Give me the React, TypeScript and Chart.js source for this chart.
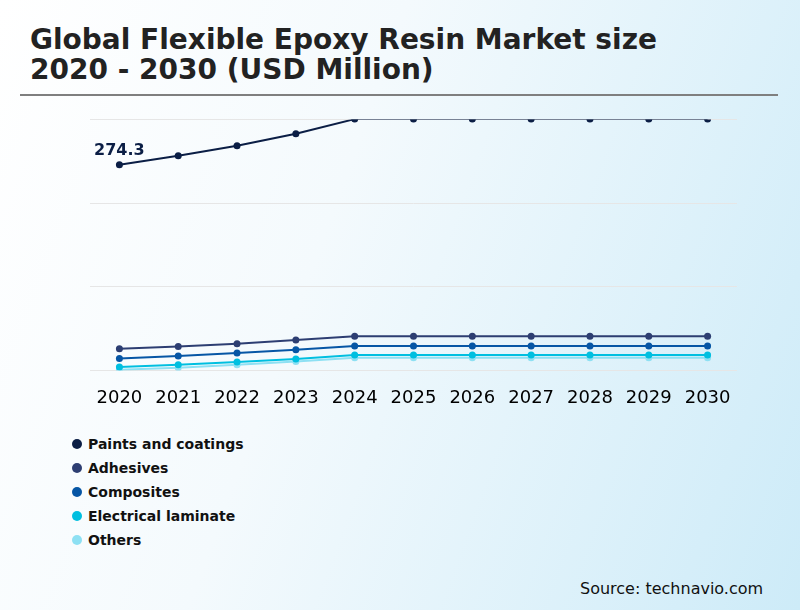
import { useEffect, useRef } from "react";
import { Chart, ChartConfiguration, Plugin, registerables } from "chart.js";

Chart.register(...registerables);

const years = ["2020", "2021", "2022", "2023", "2024", "2025", "2026", "2027", "2028", "2029", "2030"];

const paints = [274.3, 286.2, 299.5, 315.5, 335, 335, 335, 335, 335, 335, 335];
const adhesives = [29.0, 32.0, 35.6, 40.5, 45.4, 45.4, 45.4, 45.4, 45.4, 45.4, 45.4];
const composites = [16.0, 19.1, 23.1, 27.6, 32.4, 32.4, 32.4, 32.4, 32.4, 32.4, 32.4];
const electrical = [4.5, 7.6, 11.1, 15.1, 20.4, 20.4, 20.4, 20.4, 20.4, 20.4, 20.4];
const others = [1.0, 3.6, 7.6, 12.0, 17.0, 17.0, 17.0, 17.0, 17.0, 17.0, 17.0];

const seriesNames = ["Paints and coatings", "Adhesives", "Composites", "Electrical laminate", "Others"];
const seriesColors = ["#0b1e45", "#2d3e72", "#0656a5", "#00bfe0", "#8de0f3"];
const seriesValues = [paints, adhesives, composites, electrical, others];

const yMax = 334.5;
const yStep = 111.5;

const FONT = "'DejaVu Sans', sans-serif";

// value label above the first point of the first series
const firstLabel: Plugin<"line"> = {
  id: "firstLabel",
  afterDatasetsDraw(chart) {
    const pt = chart.getDatasetMeta(0).data[0];
    if (!pt) return;
    const { ctx } = chart;
    ctx.save();
    ctx.font = `bold 16px ${FONT}`;
    ctx.fillStyle = "#0b1e45";
    ctx.textAlign = "center";
    ctx.textBaseline = "alphabetic";
    ctx.fillText(paints[0].toFixed(1), pt.x, pt.y - 9.5);
    ctx.restore();
  },
};

function LineChart(): JSX.Element {
  const chartRef = useRef<HTMLCanvasElement | null>(null);
  const chartInstance = useRef<Chart | null>(null);

  useEffect(() => {
    if (!chartRef.current) return;
    const ctx = chartRef.current.getContext("2d");
    if (!ctx) return;

    Chart.defaults.font.family = FONT;

    const config: ChartConfiguration<"line"> = {
      type: "line",
      data: {
        labels: years,
        datasets: seriesNames.map((name, i) => ({
          label: name,
          data: seriesValues[i],
          borderColor: seriesColors[i],
          backgroundColor: seriesColors[i],
          borderWidth: 2,
          pointRadius: 3.5,
          pointBorderWidth: 0,
          tension: 0,
          fill: false,
        })),
      },
      options: {
        animation: false,
        responsive: false,
        layout: { padding: { top: 19.5, left: 90, right: 63, bottom: 4 } },
        plugins: {
          legend: { display: false },
          tooltip: { enabled: false },
        },
        scales: {
          x: {
            offset: true,
            grid: { display: false, drawTicks: false },
            border: { display: false },
            ticks: {
              color: "#000",
              font: { size: 18 },
              padding: 17,
              maxRotation: 0,
              autoSkip: false,
            },
          },
          y: {
            min: 0,
            max: yMax,
            ticks: { display: false, stepSize: yStep },
            grid: { color: "#e6e6e6", drawTicks: false, lineWidth: 1 },
            border: { display: false },
          },
        },
      },
      plugins: [firstLabel],
    };

    if (chartInstance.current) chartInstance.current.destroy();
    chartInstance.current = new Chart(ctx, config);

    return () => {
      if (chartInstance.current) {
        chartInstance.current.destroy();
        chartInstance.current = null;
      }
    };
  }, []);

  return (
    <canvas
      ref={chartRef}
      width={800}
      height={330}
      style={{ position: "absolute", left: 0, top: 100, width: 800, height: 330 }}
    />
  );
}

export default function App(): JSX.Element {
  return (
    <div
      style={{
        position: "absolute",
        left: 0,
        top: 0,
        width: 800,
        height: 610,
        overflow: "hidden",
        fontFamily: FONT,
        background: "linear-gradient(110deg, #ffffff 0%, #f4fafd 40%, #cdebf8 100%)",
      }}
    >
      <div
        style={{
          position: "absolute",
          left: 30,
          top: 25,
          fontSize: 28,
          lineHeight: "30px",
          fontWeight: "bold",
          color: "#222",
        }}
      >
        Global Flexible Epoxy Resin Market size
        <br />
        2020 - 2030 (USD Million)
      </div>
      <div style={{ position: "absolute", left: 20, top: 94, width: 758, height: 2, background: "#7f7f7f" }} />

      <LineChart />

      <div style={{ position: "absolute", left: 72, top: 432 }}>
        {seriesNames.map((name, i) => (
          <div
            key={name}
            style={{ display: "flex", alignItems: "center", height: 24, fontSize: 14, fontWeight: "bold", color: "#111" }}
          >
            <span
              style={{
                display: "inline-block",
                width: 10,
                height: 10,
                borderRadius: "50%",
                background: seriesColors[i],
                marginRight: 6,
              }}
            />
            {name}
          </div>
        ))}
      </div>

      <div style={{ position: "absolute", left: 580, top: 579, fontSize: 16, lineHeight: "20px", color: "#111" }}>
        Source: technavio.com
      </div>
    </div>
  );
}
